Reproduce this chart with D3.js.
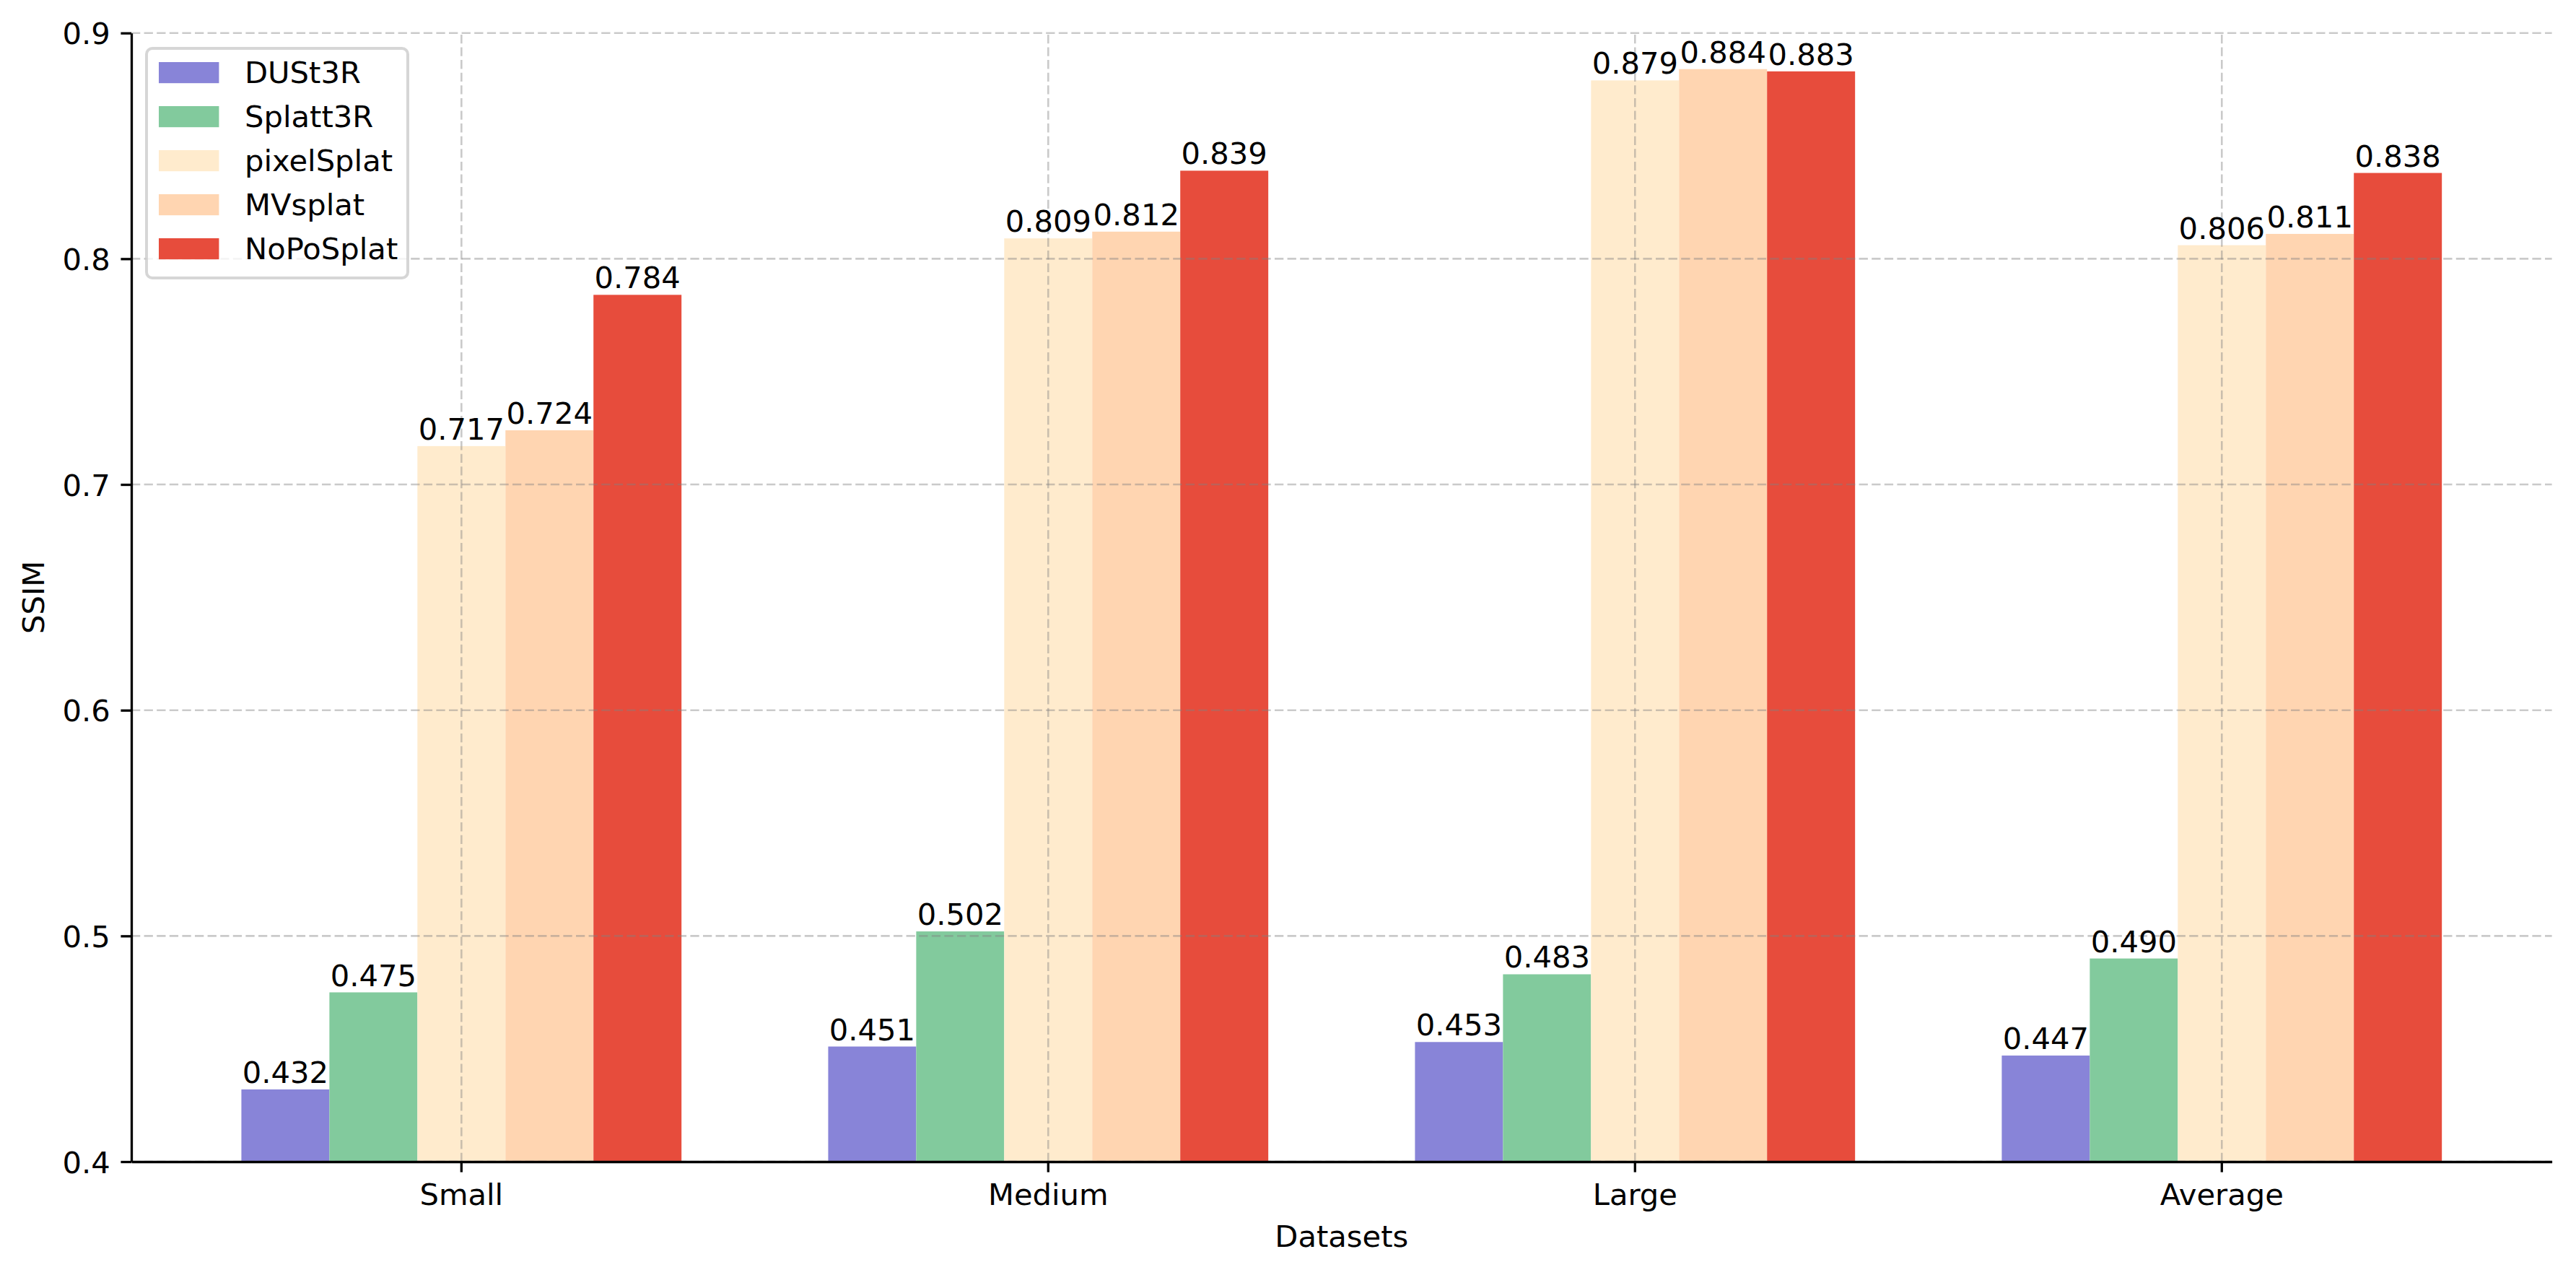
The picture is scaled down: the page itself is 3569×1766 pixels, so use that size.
<!doctype html>
<html>
<head>
<meta charset="utf-8" />
<script src="https://d3js.org/d3.v7.min.js"></script>
<style>
  body { margin: 0; background: #fff; }
  text { font-family: "DejaVu Sans", sans-serif; fill: #000; }
</style>
</head>
<body>
<svg id="chart" width="3569" height="1766"></svg>
<script>
// data
var categories = ["Small", "Medium", "Large", "Average"];
var series = ["DUSt3R", "Splatt3R", "pixelSplat", "MVsplat", "NoPoSplat"];
var colors = ["#8884d8", "#82ca9d", "#ffebcd", "#ffd5b1", "#e74c3c"];
var dust3r    = [0.432, 0.451, 0.453, 0.447];
var splatt3r  = [0.475, 0.502, 0.483, 0.490];
var pixelsplat = [0.717, 0.809, 0.879, 0.806];
var mvsplat   = [0.724, 0.812, 0.884, 0.811];
var noposplat = [0.784, 0.839, 0.883, 0.838];
var yTicks = [0.4, 0.5, 0.6, 0.7, 0.8, 0.9];

var values = [dust3r, splatt3r, pixelsplat, mvsplat, noposplat];

var svg = d3.select("#chart");
var plotL = 182, plotR = 3535.6, plotT = 45.7, plotB = 1609;
var fs = 41.7;

var x0 = d3.scaleBand().domain(categories).range([plotL, plotR])
    .paddingInner(0.25).paddingOuter(0.1875);
var x1 = d3.scaleBand().domain(series).range([0, x0.bandwidth()]).padding(0);
var y = d3.scaleLinear().domain([0.4, 0.9]).range([plotB, plotT]);

// bars
var rows = [];
series.forEach(function(s, i) {
    categories.forEach(function(c, j) {
        rows.push({s: s, c: c, v: values[i][j], color: colors[i]});
    });
});

var barG = svg.append("g");
barG.selectAll("rect").data(rows).enter().append("rect")
    .attr("x", d => x0(d.c) + x1(d.s))
    .attr("y", d => y(d.v))
    .attr("width", x1.bandwidth())
    .attr("height", d => y(0.4) - y(d.v))
    .attr("fill", d => d.color);

// grid on top of bars
var grid = svg.append("g")
    .attr("stroke", "#808080").attr("stroke-opacity", 0.42)
    .attr("stroke-width", 2.6).attr("stroke-dasharray", "12.3,5.3");
grid.selectAll("line.h").data(yTicks).enter().append("line")
    .attr("x1", plotL).attr("x2", plotR)
    .attr("y1", d => y(d)).attr("y2", d => y(d));
grid.selectAll("line.v").data(categories).enter().append("line")
    .attr("x1", d => x0(d) + x0.bandwidth() / 2).attr("x2", d => x0(d) + x0.bandwidth() / 2)
    .attr("y1", plotB).attr("y2", plotT);

// value labels
svg.append("g").selectAll("text").data(rows).enter().append("text")
    .attr("x", d => x0(d.c) + x1(d.s) + x1.bandwidth() / 2)
    .attr("y", d => y(d.v) - 9)
    .attr("text-anchor", "middle")
    .style("font-size", fs + "px")
    .text(d => d3.format(".3f")(d.v));

// axes
var yAxis = svg.append("g").attr("transform", `translate(${plotL},0)`)
    .call(d3.axisLeft(y).tickValues(yTicks).tickFormat(d3.format(".1f"))
        .tickSize(14.6).tickPadding(14.6).tickSizeOuter(0));
var xAxis = svg.append("g").attr("transform", `translate(0,${plotB})`)
    .call(d3.axisBottom(x0).tickSize(14.6).tickPadding(14.6).tickSizeOuter(0));

[yAxis, xAxis].forEach(function(ax) {
    ax.select(".domain").attr("stroke", "#000").attr("stroke-width", 3.3);
    ax.selectAll(".tick line").attr("stroke", "#000").attr("stroke-width", 3.3);
    ax.selectAll(".tick text").style("font-size", fs + "px")
      .attr("font-family", null).attr("fill", "#000");
});
yAxis.selectAll(".tick text").attr("dy", "0.36em");
xAxis.selectAll(".tick text").attr("dy", null).attr("y", 1668.5 - plotB);

// axis titles
svg.append("text").attr("x", (plotL + plotR) / 2).attr("y", 1727)
    .attr("text-anchor", "middle").style("font-size", fs + "px").text("Datasets");
svg.append("text").attr("transform", `translate(61,${(plotT + plotB) / 2}) rotate(-90)`)
    .attr("text-anchor", "middle").style("font-size", fs + "px").text("SSIM");

// legend
var lg = svg.append("g");
lg.append("rect").attr("x", 203).attr("y", 67).attr("width", 362).attr("height", 318)
    .attr("rx", 8).attr("fill", "#fff").attr("fill-opacity", 0.8)
    .attr("stroke", "#cccccc").attr("stroke-opacity", 0.8).attr("stroke-width", 4);
var items = lg.selectAll("g.item").data(series).enter().append("g")
    .attr("transform", (d, i) => `translate(0,${86 + i * 61})`);
items.append("rect").attr("x", 220).attr("y", 0).attr("width", 83.4).attr("height", 29.2)
    .attr("fill", (d, i) => colors[i]);
items.append("text").attr("x", 339).attr("y", 28.5)
    .style("font-size", fs + "px").text(d => d);
</script>
</body>
</html>
